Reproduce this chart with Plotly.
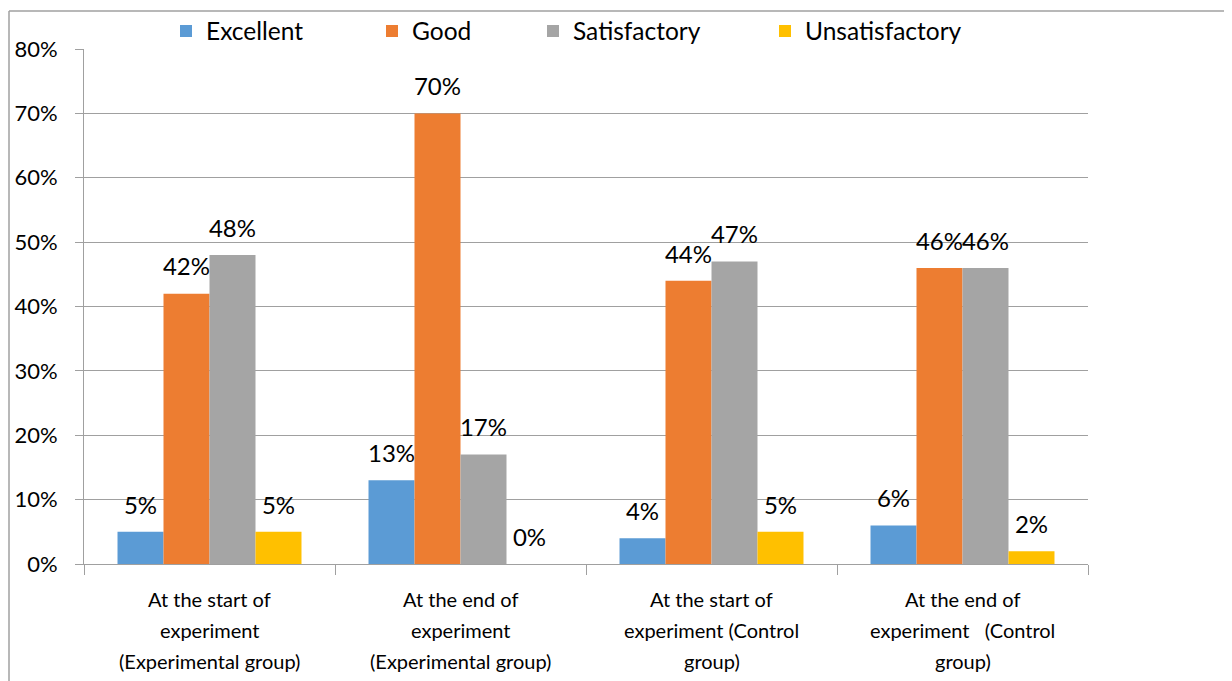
import plotly.graph_objects as go

categories = [
    "At the start of<br>experiment<br>(Experimental group)",
    "At the end of<br>experiment<br>(Experimental group)",
    "At the start of<br>experiment (Control<br>group)",
    "At the end of<br>experiment   (Control<br>group)",
]
series_names = ["Excellent", "Good", "Satisfactory", "Unsatisfactory"]
excellent = [0.05, 0.13, 0.04, 0.06]
good = [0.42, 0.70, 0.44, 0.46]
satisfactory = [0.48, 0.17, 0.47, 0.46]
unsatisfactory = [0.05, 0.00, 0.05, 0.02]
y_ticks = [0.0, 0.1, 0.2, 0.3, 0.4, 0.5, 0.6, 0.7, 0.8]

series_values = [excellent, good, satisfactory, unsatisfactory]
colors = ["#5B9BD5", "#ED7D31", "#A5A5A5", "#FFC000"]

FONT = "Lato, Carlito, Calibri, sans-serif"
BARGAP = 0.267

# page is offset by the browser's default 8px body margin
W, H = 1224, 673
L, T = 76, 41
PW, PH = 1004, 515


def px(xf):
    return (xf - L) / PW


def py(yf):
    return 1 + (T - yf) / PH


legend_ids = ["legend", "legend2", "legend3", "legend4"]
legend_x = [158, 364, 525, 757]   # figure px, left edge of each legend entry

fig = go.Figure()
for name, vals, col, lid in zip(series_names, series_values, colors, legend_ids):
    fig.add_trace(go.Bar(
        x=categories, y=vals, name=name, legend=lid,
        marker=dict(color=col, line=dict(width=0)),
        hoverinfo="skip",
    ))
# value labels, grouped like the bars
for name, vals in zip(series_names, series_values):
    fig.add_trace(go.Scatter(
        x=categories, y=vals, mode="markers+text", orientation="v",
        text=[f"{v:.0%}" for v in vals], textposition="top center",
        textfont=dict(family=FONT, size=24, color="#000000"),
        marker=dict(size=18, opacity=0),
        showlegend=False, hoverinfo="skip", cliponaxis=False,
    ))

# category labels, one annotation per line for Excel-like line spacing
annotations = []
line_shift = [-35, -66, -97]
for cat in categories:
    for i, line in enumerate(cat.split("<br>")):
        annotations.append(dict(
            x=cat, xref="x", y=0, yref="paper", text=line,
            showarrow=False, xanchor="center", yanchor="middle",
            yshift=line_shift[i],
            font=dict(family=FONT, size=20, color="#000000"),
        ))

legend_common = dict(orientation="h", xref="paper", yref="paper",
                     xanchor="left", y=py(23), yanchor="middle",
                     font=dict(family=FONT, size=24.5, color="#000000"),
                     bgcolor="rgba(0,0,0,0)")
legends = {lid: dict(legend_common, x=px(lx)) for lid, lx in zip(legend_ids, legend_x)}

grid = "#a0a0a0"
fig.update_layout(
    template="none",
    width=W, height=H,
    margin=dict(l=L, r=W - L - PW, t=T, b=H - T - PH, autoexpand=False),
    paper_bgcolor="white", plot_bgcolor="white",
    barmode="group", bargap=BARGAP, bargroupgap=0,
    scattermode="group", scattergap=BARGAP,
    font=dict(family=FONT, size=24, color="#000000"),
    showlegend=True,
    annotations=annotations,
    xaxis=dict(
        type="category", showline=True, linecolor=grid, linewidth=1,
        ticks="outside", tickson="boundaries", ticklen=10, tickcolor=grid,
        showgrid=False, automargin=False, showticklabels=False,
    ),
    yaxis=dict(
        range=[0, 0.8], tickvals=y_ticks, tickformat=".0%",
        showline=True, linecolor=grid, linewidth=1,
        ticks="outside", ticklen=8, tickcolor=grid,
        showgrid=True, gridcolor=grid, gridwidth=1, zeroline=False,
        automargin=False,
        tickfont=dict(family=FONT, size=22, color="#000000"),
        ticklabelstandoff=13,
    ),
    shapes=[
        dict(type="line", xref="paper", yref="paper",
             x0=px(1), x1=px(1), y0=py(3), y1=py(700),
             line=dict(color=grid, width=1.5)),
        dict(type="line", xref="paper", yref="paper",
             x0=px(1), x1=px(1240), y0=py(3), y1=py(3),
             line=dict(color=grid, width=1.5)),
    ],
    **legends,
)

fig.write_html("out.html")
